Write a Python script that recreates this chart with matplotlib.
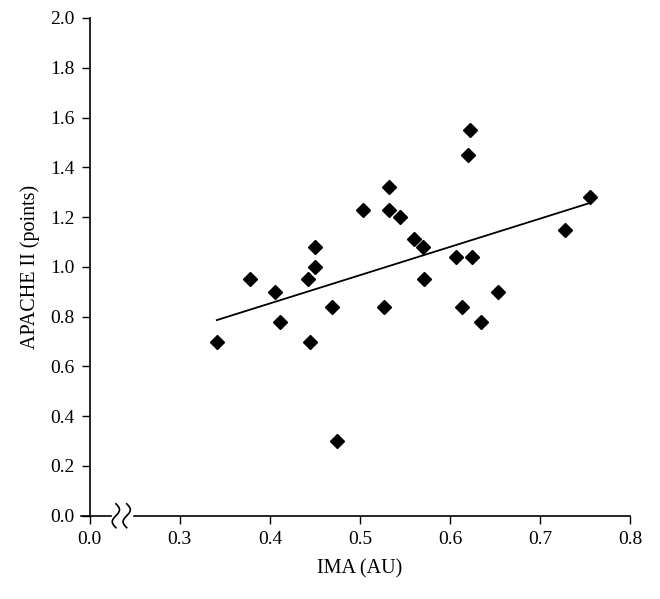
import numpy as np
import matplotlib.pyplot as plt

# data
ima = [0.341, 0.378, 0.406, 0.411, 0.442, 0.444, 0.450, 0.450, 0.469, 0.474,
       0.503, 0.527, 0.532, 0.532, 0.544, 0.560, 0.570, 0.571, 0.606, 0.613,
       0.620, 0.622, 0.624, 0.634, 0.653, 0.727, 0.755]
apache = [0.70, 0.95, 0.90, 0.78, 0.95, 0.70, 1.08, 1.00, 0.84, 0.30,
          1.23, 0.84, 1.32, 1.23, 1.20, 1.11, 1.08, 0.95, 1.04, 0.84,
          1.45, 1.55, 1.04, 0.78, 0.90, 1.15, 1.28]
x_ticks = [0.2, 0.3, 0.4, 0.5, 0.6, 0.7, 0.8]
x_labels = ["0.0", "0.3", "0.4", "0.5", "0.6", "0.7", "0.8"]
y_ticks = [0.0, 0.2, 0.4, 0.6, 0.8, 1.0, 1.2, 1.4, 1.6, 1.8, 2.0]

plt.rcParams['font.family'] = 'serif'
plt.rcParams['font.serif'] = ['Liberation Serif', 'Times New Roman', 'DejaVu Serif']

fig = plt.figure(figsize=(6.6, 5.99), dpi=100)
ax = fig.add_axes([0.136, 0.139, 0.819, 0.831])

ax.plot(ima, apache, 'D', color='black', ms=7, clip_on=False)

# linear trend line
k, b = np.polyfit(ima, apache, 1)
xs = np.array([min(ima), max(ima)])
ax.plot(xs, k * xs + b, color='black', lw=1.3)

ax.set_xlim(0.2, 0.8)
ax.set_ylim(0, 2.0)
ax.set_xticks(x_ticks)
ax.set_xticklabels(x_labels)
ax.set_yticks(y_ticks)
ax.set_yticklabels([f"{v:.1f}" for v in y_ticks])
ax.tick_params(direction='out', length=6, width=1, labelsize=14, pad=5)

for s in ['top', 'right', 'bottom']:
    ax.spines[s].set_visible(False)
ax.spines['left'].set_linewidth(1.2)

# x axis drawn by hand with a break near the origin
tr = ax.get_xaxis_transform()
ax.plot([0.19, 0.224], [0, 0], color='black', lw=1.2, transform=tr, clip_on=False)
ax.plot([0.249, 0.8], [0, 0], color='black', lw=1.2, transform=tr, clip_on=False)
t = np.linspace(-1, 1, 50)
for cx in [0.229, 0.241]:
    ax.plot(cx + 0.004 * np.sin(t * np.pi), t * 0.024, color='black', lw=1.2,
            transform=tr, clip_on=False)

ax.set_xlabel("IMA (AU)", fontsize=14.5, labelpad=8)
ax.set_ylabel("APACHE II (points)", fontsize=14.5, labelpad=7)

fig.savefig("out.png", dpi=100)
